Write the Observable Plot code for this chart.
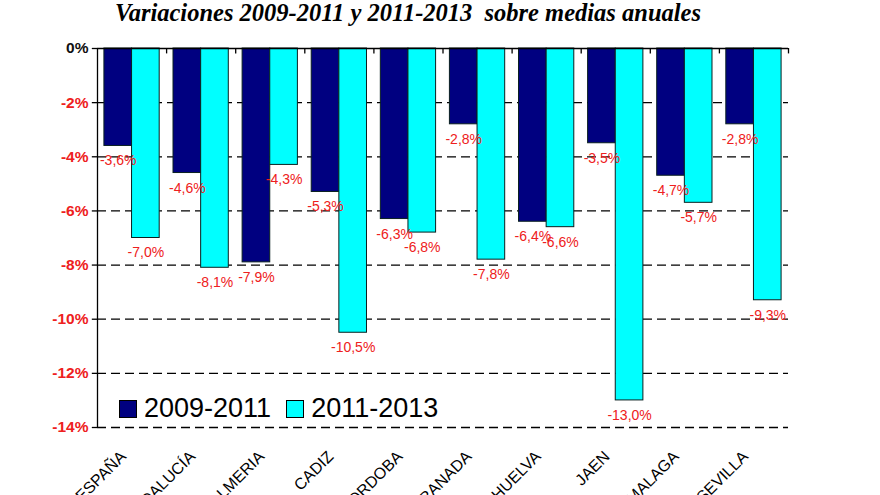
<!DOCTYPE html>
<html>
<head>
<meta charset="utf-8">
<script src="https://cdn.jsdelivr.net/npm/d3@7"></script>
<script src="https://cdn.jsdelivr.net/npm/@observablehq/plot@0.6"></script>
<style>
  html, body { margin: 0; padding: 0; background: #fff; }
  #wrap { position: relative; width: 880px; height: 495px; overflow: hidden; }
  #title { height: 28px; line-height: 26px; font-family: "Liberation Serif", "Times New Roman", serif; font-weight: bold; font-style: italic; font-size: 24.5px; color: #000; padding-left: 115px; white-space: pre; }
  #legend { position: absolute; left: 119px; top: 393px; font-family: "Liberation Sans", Arial, sans-serif; font-size: 27px; color: #000; display: flex; align-items: center; }
  #legend .sw { width: 16px; height: 16px; border: 1px solid #000; display: inline-block; margin-right: 7px; }
  #legend .item { display: flex; align-items: center; margin-right: 15px; }
</style>
</head>
<body>
<div id="wrap">
  <div id="title">Variaciones 2009-2011 y 2011-2013  sobre medias anuales</div>
  <div id="chart"></div>
  <div id="legend"></div>
</div>
<script>
const categories = ["ESPAÑA", "ANDALUCÍA", "ALMERIA", "CADIZ", "CORDOBA", "GRANADA", "HUELVA", "JAEN", "MALAGA", "SEVILLA"];
const series = ["2009-2011", "2011-2013"];
const v2009_2011 = [-3.6, -4.6, -7.9, -5.3, -6.3, -2.8, -6.4, -3.5, -4.7, -2.8];
const v2011_2013 = [-7.0, -8.1, -4.3, -10.5, -6.8, -7.8, -6.6, -13.0, -5.7, -9.3];
const yTicks = [0, -2, -4, -6, -8, -10, -12, -14];
const colors = ["#000080", "#00FFFF"];

const barW = 0.4;
const rows = categories.flatMap((c, i) => [
  {i, cat: c, s: 0, serie: series[0], v: v2009_2011[i]},
  {i, cat: c, s: 1, serie: series[1], v: v2011_2013[i]}
]);
const boundaries = categories.map((c, i) => i + 0.5);
const fmt = v => v.toFixed(1).replace(".", ",") + "%";

const plot = Plot.plot({
  width: 880,
  height: 467,
  marginTop: 20,
  marginBottom: 68,
  marginLeft: 97,
  marginRight: 92,
  style: {fontFamily: "Liberation Sans, Arial, sans-serif", background: "transparent", overflow: "visible"},
  x: {type: "linear", domain: [-0.5, categories.length - 0.5], axis: null},
  y: {domain: [-14, 0], axis: null},
  marks: [
    Plot.ruleY(yTicks.filter(d => d < 0), {stroke: "#000", strokeWidth: 1.3, strokeDasharray: "9,5"}),
    Plot.rectY(rows, {
      x1: d => d.i - barW + d.s * barW,
      x2: d => d.i + d.s * barW,
      y1: 0,
      y2: "v",
      fill: d => colors[d.s],
      stroke: "#0a2020",
      strokeWidth: 1
    }),
    Plot.ruleY([0], {stroke: "#000", strokeWidth: 1.3}),
    Plot.ruleX([-0.5], {y1: -14, y2: 0, stroke: "#000", strokeWidth: 1.3}),
    Plot.ruleX(boundaries, {y1: 0, y2: -0.2, stroke: "#000", strokeWidth: 1.3}),
    Plot.ruleY(yTicks, {x1: -0.575, x2: -0.5, stroke: "#000", strokeWidth: 1.3}),
    Plot.text(yTicks, {
      x: -0.5, y: d => d, text: d => d + "%",
      textAnchor: "end", dx: -9,
      fill: d => d === 0 ? "#111" : "#ee2020",
      fontSize: 15.5, fontWeight: "bold"
    }),
    Plot.text(rows, {
      x: d => d.i - barW / 2 + d.s * barW,
      y: "v",
      text: d => fmt(d.v),
      dy: 15,
      fill: "#ee2020",
      fontSize: 14
    }),
    Plot.text(categories, {
      x: (d, i) => i, y: -14, text: d => d,
      rotate: -45, textAnchor: "end", lineAnchor: "top",
      dx: -13, dy: 22,
      fill: "#000", fontSize: 16
    })
  ]
});
document.getElementById("chart").appendChild(plot);

const legend = document.getElementById("legend");
series.forEach((s, k) => {
  const item = document.createElement("span");
  item.className = "item";
  const sw = document.createElement("span");
  sw.className = "sw";
  sw.style.background = colors[k];
  item.appendChild(sw);
  item.appendChild(document.createTextNode(s));
  legend.appendChild(item);
});
</script>
</body>
</html>
